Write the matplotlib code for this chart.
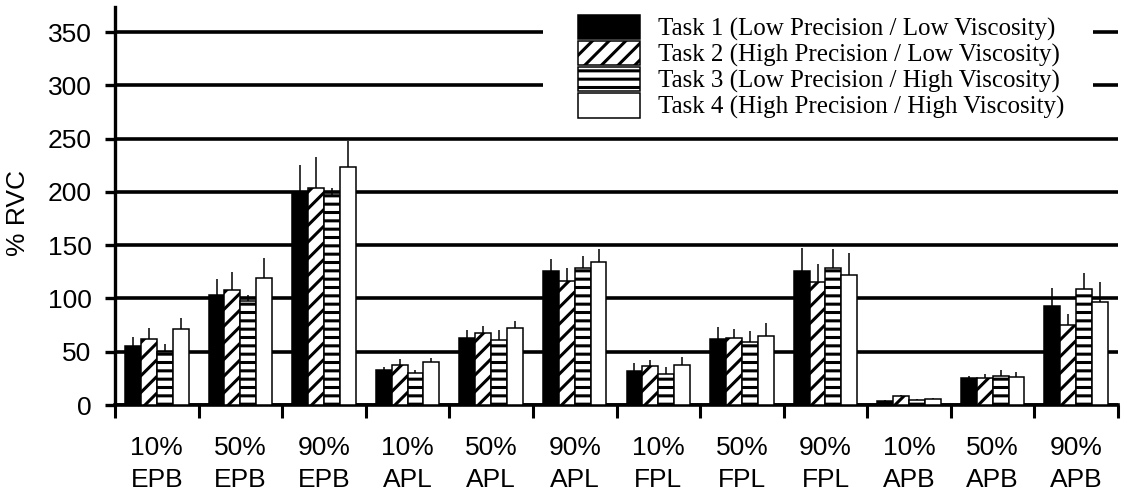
"""% RVC by muscle / effort level for four tasks. Scanned-style grayscale bars."""

import matplotlib.pyplot as plt
import numpy as np
from matplotlib.patches import Rectangle

CATEGORIES = ["10%\nEPB", "50%\nEPB", "90%\nEPB",
              "10%\nAPL", "50%\nAPL", "90%\nAPL",
              "10%\nFPL", "50%\nFPL", "90%\nFPL",
              "10%\nAPB", "50%\nAPB", "90%\nAPB"]

TASK1 = [55, 103, 200, 33, 63, 126, 32, 62, 126, 4, 25, 93]
TASK2 = [62, 108, 204, 38, 68, 116, 37, 63, 115, 8, 25, 75]
TASK3 = [50, 98, 197, 30, 61, 129, 29, 59, 129, 5, 27, 109]
TASK4 = [71, 119, 223, 40, 72, 134, 38, 65, 122, 6, 26, 97]

ERR1 = [9, 15, 25, 3, 7, 11, 7, 11, 21, 1, 2, 17]
ERR2 = [10, 17, 29, 5, 6, 13, 5, 8, 17, 1, 4, 10]
ERR3 = [7, 5, 7, 3, 9, 11, 7, 10, 17, 1, 6, 15]
ERR4 = [11, 19, 25, 4, 7, 12, 7, 12, 21, 1, 5, 18]

LABELS = ["Task 1 (Low Precision / Low Viscosity)",
          "Task 2 (High Precision / Low Viscosity)",
          "Task 3 (Low Precision / High Viscosity)",
          "Task 4 (High Precision / High Viscosity)"]

plt.rcParams["font.family"] = ["Liberation Sans", "DejaVu Sans"]
plt.rcParams["hatch.linewidth"] = 2.2
plt.rcParams["hatch.color"] = "black"

fig = plt.figure(figsize=(11.25, 4.98), dpi=100)
ax = fig.add_axes([115 / 1125, 93 / 498, 1003 / 1125, 398 / 498])

x = np.arange(len(CATEGORIES))
bw = 0.19
series = [TASK1, TASK2, TASK3, TASK4]
errors = [ERR1, ERR2, ERR3, ERR4]
faces = ["black", "white", "white", "white"]
hatches = [None, "//", "--", None]

for i, (vals, err) in enumerate(zip(series, errors)):
    ax.bar(x + (i - 1.5) * bw, vals, bw,
           yerr=[np.zeros(len(err)), err],
           error_kw=dict(ecolor="black", lw=1.1, capsize=0, zorder=2.5),
           color=faces[i], edgecolor="black", linewidth=1.1,
           hatch=hatches[i], label=LABELS[i], zorder=3)

ax.set_xlim(-0.5, 11.5)
ax.set_ylim(0, 373.5)

ax.set_yticks(np.arange(0, 351, 50))
ax.yaxis.grid(True, color="black", linewidth=2.6)
ax.set_axisbelow(True)
ax.tick_params(axis="y", direction="out", length=7, width=2.4,
               labelsize=19, pad=10)

ax.set_xticks(np.arange(-0.5, 11.6, 1.0))
ax.set_xticklabels([])
ax.set_xticks(x, minor=True)
ax.set_xticklabels(CATEGORIES, minor=True, fontsize=19, linespacing=1.45)
ax.tick_params(axis="x", which="major", direction="out", length=9, width=2.2)
ax.tick_params(axis="x", which="minor", length=0, pad=22)

for side in ["top", "right"]:
    ax.spines[side].set_visible(False)
ax.spines["left"].set_linewidth(2.4)
ax.spines["bottom"].set_linewidth(2.6)

ax.set_ylabel("% RVC", fontsize=19)
ax.yaxis.set_label_coords(-0.085, 0.482)

# white area behind the legend hides the upper gridlines
ax.add_patch(Rectangle((0.4267, 0.70), 0.548, 0.31, transform=ax.transAxes,
                       facecolor="white", edgecolor="none", zorder=1,
                       clip_on=False))

ax.legend(loc="upper left", bbox_to_anchor=(0.4616, 0.98), frameon=False,
          prop={"family": "Liberation Serif", "size": 18},
          handlelength=2.5, handleheight=1.12, labelspacing=0.0,
          handletextpad=0.7, borderpad=0.0, borderaxespad=0.0)

fig.savefig("out.png", dpi=100)
